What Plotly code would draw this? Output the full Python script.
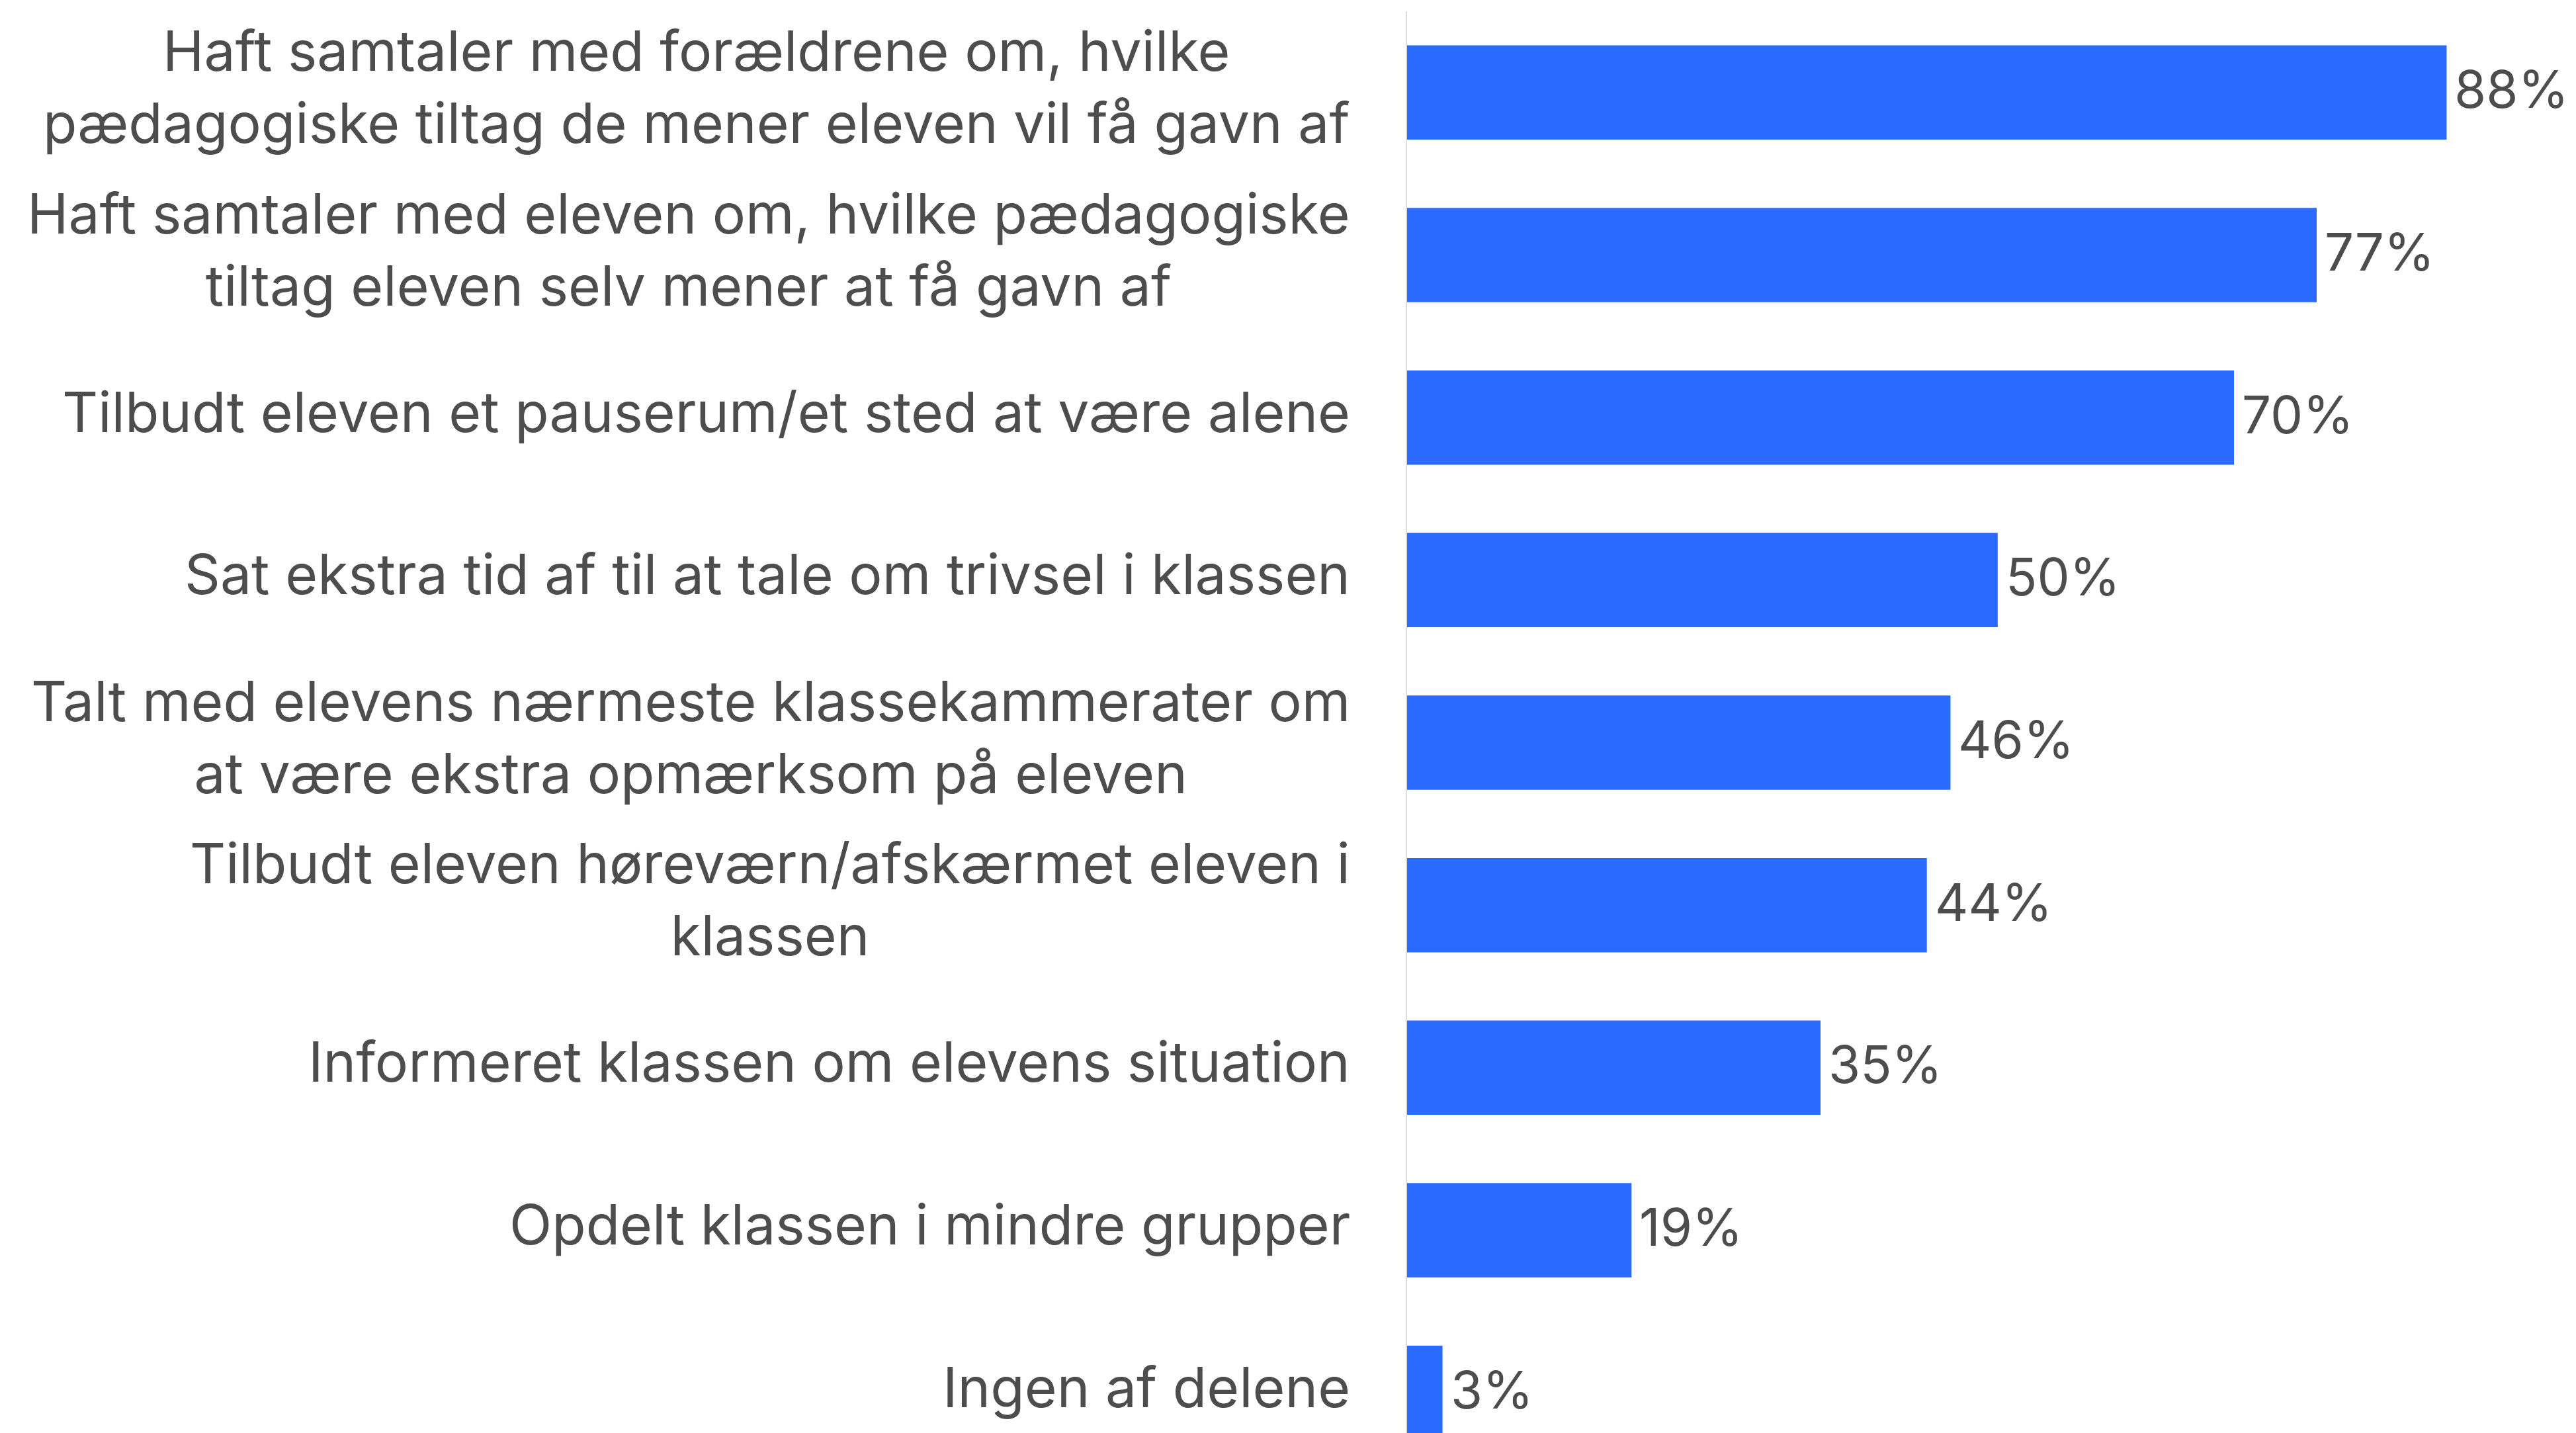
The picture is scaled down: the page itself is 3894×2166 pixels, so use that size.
import plotly.graph_objects as go

BAR_BLUE = "#2A6AFF"
TEXT_GREY = "#4D4D4D"
AXIS_GREY = "#DDDDDD"
FONT = "Inter, sans-serif"

# ── Data ─────────────────────────────────────────────────────────────────────

categories = [
    "Haft samtaler med forældrene om, hvilke<br>pædagogiske tiltag de mener eleven vil få gavn af",
    "Haft samtaler med eleven om, hvilke pædagogiske<br>tiltag eleven selv mener at få gavn af",
    "Tilbudt eleven et pauserum/et sted at være alene",
    "Sat ekstra tid af til at tale om trivsel i klassen",
    "Talt med elevens nærmeste klassekammerater om<br>at være ekstra opmærksom på eleven",
    "Tilbudt eleven høreværn/afskærmet eleven i<br>klassen",
    "Informeret klassen om elevens situation",
    "Opdelt klassen i mindre grupper",
    "Ingen af delene",
]
shares = [88, 77, 70, 50, 46, 44, 35, 19, 3]
share_labels = [f"{v}%" for v in shares]

# ── Figure ───────────────────────────────────────────────────────────────────

fig = go.Figure(go.Bar(
    x=shares,
    y=categories,
    orientation="h",
    marker=dict(color=BAR_BLUE, line=dict(width=0)),
    hoverinfo="skip",
))

# category labels: right-aligned block, lines centred within it
for cat in categories:
    fig.add_annotation(
        x=0, y=cat, xref="x", yref="y",
        text=cat, showarrow=False,
        xanchor="right", yanchor="middle", align="center",
        xshift=-84, yshift=9,
        font=dict(family=FONT, size=84, color=TEXT_GREY),
    )

# value labels just outside each bar
for cat, val, lab in zip(categories, shares, share_labels):
    fig.add_annotation(
        x=val, y=cat, xref="x", yref="y",
        text=lab, showarrow=False,
        xanchor="left", yanchor="middle",
        xshift=10, yshift=5,
        font=dict(family=FONT, size=78, color=TEXT_GREY),
    )

fig.update_layout(
    width=3894,
    height=2166,
    paper_bgcolor="white",
    plot_bgcolor="white",
    font=dict(family=FONT, color=TEXT_GREY),
    margin=dict(l=2119, r=0, t=9, b=0),
    bargap=0.42,
    showlegend=False,
)
fig.update_xaxes(
    range=[0, 99.4], showgrid=False, zeroline=False,
    showticklabels=False, showline=False,
)
fig.update_yaxes(
    range=[8.28, -0.5], showgrid=False, zeroline=False,
    showticklabels=False, showline=True, linecolor=AXIS_GREY, linewidth=2,
    ticks="",
)

fig.write_html("out.html")
